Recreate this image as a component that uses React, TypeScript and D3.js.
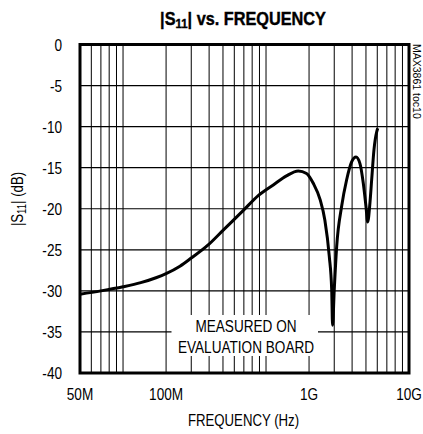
import * as d3 from "d3";
import React from "react";

const freqHz = [
  50e6, 70e6, 100e6, 133e6, 170e6, 200e6, 250e6, 300e6, 394e6, 502e6, 694e6, 882e6,
  1.124e9, 1.39e9, 1.68e9, 1.92e9, 2.14e9, 2.39e9, 2.58e9, 2.77e9, 2.88e9, 2.92e9,
  3.0e9, 3.12e9, 3.38e9, 3.66e9, 3.97e9, 4.26e9, 4.54e9, 4.79e9, 5.0e9, 5.14e9,
  5.33e9, 5.48e9, 5.69e9, 5.95e9, 6.05e9,
];
const s11dB = [
  -30.4, -30.0, -29.5, -29.0, -28.4, -27.9, -27.0, -26.0, -24.4, -22.6, -20.2, -18.4,
  -17.1, -16.0, -15.4, -15.7, -16.9, -18.9, -21.4, -25.8, -29.9, -34.2,
  -29.9, -24.6, -19.7, -16.5, -14.3, -13.7, -14.5, -16.9, -19.7, -21.6,
  -19.3, -16.5, -12.8, -10.6, -10.2,
];

const yTicks = [0, -5, -10, -15, -20, -25, -30, -35, -40];
// labels sit where the original chart printed them
const xTickLabels = ["50M", "100M", "1G", "10G"];
const xTickFreqs = [50e6, 200e6, 2e9, 10e9];
const xGrid = [
  60e6, 70e6, 80e6, 90e6, 100e6, 200e6, 300e6, 400e6, 500e6, 600e6, 700e6, 800e6,
  900e6, 1e9, 2e9, 3e9, 4e9, 5e9, 6e9, 7e9, 8e9, 9e9,
];

const W = 423;
const H = 434;
const left = 80;
const right = 409;
const top = 44.5;
const bottom = 373;

const font = "'Liberation Sans', Arial, sans-serif";
const squeeze = 0.8; // the original uses a narrow face

function NText({ x, y, rot = 0, size = 17, anchor = "middle", sx = squeeze, children, ...rest }: any) {
  return (
    <text
      transform={`translate(${x},${y}) rotate(${rot}) scale(${sx},1)`}
      textAnchor={anchor}
      fontSize={size}
      {...rest}
    >
      {children}
    </text>
  );
}

export default function App() {
  const x = d3.scaleLog().domain([50e6, 10e9]).range([left, right]);
  const y = d3.scaleLinear().domain([-40, 0]).range([bottom, top]);

  const line = d3
    .line<number>()
    .x((_, i) => x(freqHz[i]))
    .y((d) => y(d))
    .curve(d3.curveMonotoneX);

  return (
    <svg width={W} height={H} style={{ position: "absolute", left: 0, top: 0, background: "#fff" }} fontFamily={font}>
      <NText x={243} y={25} size={18.5} sx={0.88} fontWeight="bold" stroke="#000" strokeWidth={0.4}>
        |S<tspan fontSize={13} dy={3}>11</tspan>
        <tspan dy={-3}>| vs. FREQUENCY</tspan>
      </NText>

      {/* grid */}
      {xGrid.map((f) => (
        <line key={f} x1={x(f)} x2={x(f)} y1={top} y2={bottom} stroke="#000" strokeWidth={1} />
      ))}
      {yTicks.slice(1, -1).map((t) => (
        <line key={t} x1={left} x2={right} y1={y(t)} y2={y(t)} stroke="#000" strokeWidth={1.2} />
      ))}

      {/* annotation box */}
      <rect x={171.5} y={315} width={146.5} height={41} fill="#fff" />
      <NText x={246} y={332}>MEASURED ON</NText>
      <NText x={246} y={353}>EVALUATION BOARD</NText>

      <path d={line(s11dB) ?? ""} fill="none" stroke="#000" strokeWidth={3} strokeLinejoin="round" />

      <rect x={left} y={top} width={right - left} height={bottom - top} fill="none" stroke="#000" strokeWidth={3} />

      {yTicks.map((t) => (
        <NText key={t} x={62} y={y(t)} anchor="end" dominantBaseline="central">
          {t}
        </NText>
      ))}
      {xTickLabels.map((l, i) => (
        <NText key={l} x={x(xTickFreqs[i])} y={400}>
          {l}
        </NText>
      ))}

      <NText x={243.5} y={426} size={16.5}>
        FREQUENCY (Hz)
      </NText>
      <NText x={23} y={199} rot={-90} size={16.5}>
        |S<tspan fontSize={12} dy={3}>11</tspan>
        <tspan dy={-3}>| (dB)</tspan>
      </NText>
      <NText x={413} y={44} rot={90} size={10.5} sx={1} anchor="start">
        MAX3861 toc10
      </NText>
    </svg>
  );
}
